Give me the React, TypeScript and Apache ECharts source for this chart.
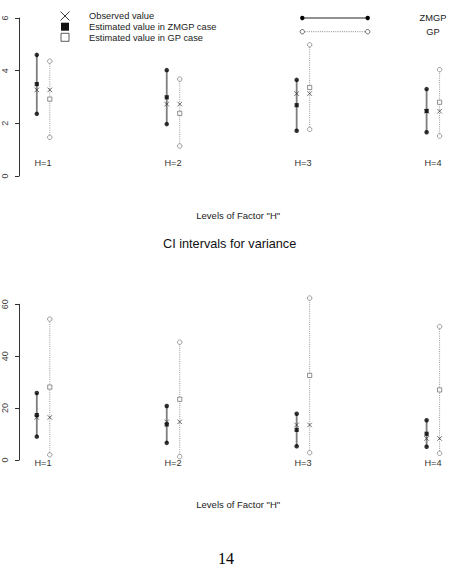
import React, { useEffect, useRef } from "react";
import * as echarts from "echarts";

// Factor levels
const categories = ["H=1", "H=2", "H=3", "H=4"];

// CI for the mean
const meanObserved = [3.27, 2.73, 3.13, 2.46];
const meanZmgpEst = [3.49, 2.99, 2.69, 2.47];
const meanZmgpLower = [2.36, 1.97, 1.72, 1.66];
const meanZmgpUpper = [4.6, 4.02, 3.65, 3.3];
const meanGpEst = [2.92, 2.38, 3.36, 2.8];
const meanGpLower = [1.47, 1.14, 1.77, 1.52];
const meanGpUpper = [4.36, 3.68, 4.98, 4.04];

// CI for the variance
const varObserved = [16.4, 14.7, 13.5, 8.3];
const varZmgpEst = [17.3, 13.7, 11.6, 10.1];
const varZmgpLower = [9.0, 6.6, 5.3, 5.1];
const varZmgpUpper = [25.8, 20.8, 17.8, 15.3];
const varGpEst = [28.1, 23.4, 32.6, 27.0];
const varGpLower = [2.0, 1.3, 2.8, 2.6];
const varGpUpper = [54.3, 45.4, 62.4, 51.4];

// Axis ticks
const meanTicks = [0, 2, 4, 6];
const varTicks = [0, 20, 40, 60];

const FONT = "Liberation Sans, Arial, Helvetica, sans-serif";
const SHIFT = 0.05; // horizontal offset of ZMGP / GP bars around each level
const X_MARK = "path://M0,0L10,10M10,0L0,10";
const LABEL_COLOR = "#333";

const zmgpX = categories.map((_, i) => i + 1 - SHIFT);
const gpX = categories.map((_, i) => i + 1 + SHIFT);

function segment(grid: number, xs: number[], lo: number[], hi: number[], stroke: string, width: number, dash?: number[]) {
  return {
    type: "custom",
    xAxisIndex: grid,
    yAxisIndex: grid,
    clip: false,
    silent: true,
    itemStyle: { color: stroke },
    data: xs.map((x, i) => [x, lo[i], hi[i]]),
    renderItem: (_p: any, api: any) => {
      const a = api.coord([api.value(0), api.value(1)]);
      const b = api.coord([api.value(0), api.value(2)]);
      return {
        type: "line",
        shape: { x1: a[0], y1: a[1], x2: b[0], y2: b[1] },
        style: { stroke, lineWidth: width, lineDash: dash || null },
      };
    },
  };
}

function points(grid: number, xs: number[], ys: number[], symbol: string, size: number, itemStyle: any) {
  return {
    type: "scatter",
    xAxisIndex: grid,
    yAxisIndex: grid,
    clip: false,
    silent: true,
    symbol,
    symbolSize: size,
    itemStyle,
    data: xs.map((x, i) => [x, ys[i]]),
  };
}

// Level names written under each pair of intervals
function levelLabels(grid: number, y: number) {
  return {
    type: "custom",
    xAxisIndex: grid,
    yAxisIndex: grid,
    clip: false,
    silent: true,
    itemStyle: { color: LABEL_COLOR },
    data: categories.map((_c, i) => [i + 1, y]),
    renderItem: (p: any, api: any) => {
      const pt = api.coord([api.value(0), api.value(1)]);
      return {
        type: "text",
        x: Math.round(pt[0]),
        y: Math.round(pt[1]),
        style: {
          text: categories[p.dataIndex],
          fill: LABEL_COLOR,
          stroke: null,
          lineWidth: 0,
          fontFamily: FONT,
          fontSize: 9.2,
          align: "center",
          verticalAlign: "middle",
        },
      };
    },
  };
}

function panel(grid: number, obs: number[], zEst: number[], zLo: number[], zHi: number[], gEst: number[], gLo: number[], gHi: number[], labelY: number) {
  const dot = { color: "#000" };
  const ring = { color: "#fff", borderColor: "#777", borderWidth: 0.9 };
  const cross = { color: "transparent", borderColor: "#333", borderWidth: 0.9 };
  return [
    segment(grid, zmgpX, zLo, zHi, "#7f7f7f", 1.8),
    segment(grid, gpX, gLo, gHi, "#9a9a9a", 1, [1, 1.2]),
    points(grid, zmgpX, zLo, "circle", 4.5, dot),
    points(grid, zmgpX, zHi, "circle", 4.5, dot),
    points(grid, gpX, gLo, "circle", 4.5, ring),
    points(grid, gpX, gHi, "circle", 4.5, ring),
    points(grid, zmgpX, obs, X_MARK, 4.5, cross),
    points(grid, gpX, obs, X_MARK, 4.5, cross),
    points(grid, zmgpX, zEst, "rect", 4.2, { color: "#000" }),
    points(grid, gpX, gEst, "rect", 4.2, { color: "#fff", borderColor: "#666", borderWidth: 0.9 }),
    levelLabels(grid, labelY),
  ];
}

function xAxis(grid: number, gap: number) {
  return {
    type: "value",
    gridIndex: grid,
    min: 0.813,
    max: 4.187,
    axisLine: { show: false },
    axisTick: { show: false },
    axisLabel: { show: false },
    splitLine: { show: false },
    name: 'Levels of Factor "H"',
    nameLocation: "middle",
    nameGap: gap,
    nameTextStyle: { fontFamily: FONT, fontSize: 9.5, color: "#222", verticalAlign: "middle" },
  };
}

function yAxis(grid: number, ticks: number[]) {
  return {
    type: "value",
    gridIndex: grid,
    min: ticks[0],
    max: ticks[ticks.length - 1],
    interval: ticks[1] - ticks[0],
    axisLine: { show: true, lineStyle: { color: "#333", width: 1 } },
    axisTick: { show: true, length: 4, lineStyle: { color: "#333" } },
    axisLabel: { rotate: 90, margin: 10, fontSize: 9, fontFamily: FONT, color: "#444" },
    splitLine: { show: false },
  };
}

export default function App() {
  const ref = useRef<HTMLDivElement>(null);
  useEffect(() => {
    if (!ref.current) return;
    const chart = echarts.init(ref.current, undefined, { renderer: "svg" });
    const txt = (text: string, x: number, y: number, align = "left", size = 9.3) => ({
      type: "text",
      x,
      y,
      style: { text, fill: "#222", font: `${size}px ${FONT}`, textAlign: align, textVerticalAlign: "middle" },
    });
    chart.setOption({
      animation: false,
      backgroundColor: "#fff",
      title: {
        text: "CI intervals for variance",
        left: 163,
        top: 237.5,
        padding: 0,
        textStyle: { fontFamily: FONT, fontSize: 12.7, fontWeight: "normal", color: "#111" },
      },
      grid: [
        { left: 16, right: 7.6, top: 18, height: 158 },
        { left: 16, right: 7.6, top: 304.3, height: 155.7 },
      ],
      xAxis: [xAxis(0, 39.7), xAxis(1, 44)],
      yAxis: [yAxis(0, meanTicks), yAxis(1, varTicks)],
      series: [
        ...panel(0, meanObserved, meanZmgpEst, meanZmgpLower, meanZmgpUpper, meanGpEst, meanGpLower, meanGpUpper, 0.5),
        ...panel(1, varObserved, varZmgpEst, varZmgpLower, varZmgpUpper, varGpEst, varGpLower, varGpUpper, -1.3),
      ],
      graphic: [
        // symbol key
        { type: "line", shape: { x1: 60.5, y1: 11.5, x2: 69.5, y2: 20.5 }, style: { stroke: "#222", lineWidth: 0.9 } },
        { type: "line", shape: { x1: 69.5, y1: 11.5, x2: 60.5, y2: 20.5 }, style: { stroke: "#222", lineWidth: 0.9 } },
        { type: "rect", shape: { x: 61, y: 22.7, width: 8, height: 8 }, style: { fill: "#111" } },
        { type: "rect", shape: { x: 61, y: 33.3, width: 8, height: 8 }, style: { fill: "#fff", stroke: "#333", lineWidth: 0.8 } },
        txt("Observed value", 89, 16),
        txt("Estimated value in ZMGP case", 89, 26.8),
        txt("Estimated value in GP case", 89, 37.5),
        // line key
        { type: "line", shape: { x1: 302.3, y1: 18, x2: 367.7, y2: 18 }, style: { stroke: "#222", lineWidth: 1 } },
        { type: "circle", shape: { cx: 302.3, cy: 18, r: 2.2 }, style: { fill: "#000" } },
        { type: "circle", shape: { cx: 367.7, cy: 18, r: 2.2 }, style: { fill: "#000" } },
        { type: "line", shape: { x1: 302.3, y1: 31.7, x2: 367.7, y2: 31.7 }, style: { stroke: "#888", lineWidth: 1, lineDash: [1, 1.2] } },
        { type: "circle", shape: { cx: 302.3, cy: 31.7, r: 2.2 }, style: { fill: "#fff", stroke: "#555", lineWidth: 0.9 } },
        { type: "circle", shape: { cx: 367.7, cy: 31.7, r: 2.2 }, style: { fill: "#fff", stroke: "#555", lineWidth: 0.9 } },
        txt("ZMGP", 433, 18, "center"),
        txt("GP", 433, 31.7, "center"),
        // page number
        {
          type: "text",
          x: 226,
          y: 558,
          style: { text: "14", fill: "#000", font: "16px Liberation Serif, DejaVu Serif, serif", textAlign: "center", textVerticalAlign: "middle" },
        },
      ],
    });
    return () => chart.dispose();
  }, []);
  return <div ref={ref} style={{ position: "fixed", left: 0, top: 0, width: 465, height: 570 }} />;
}
